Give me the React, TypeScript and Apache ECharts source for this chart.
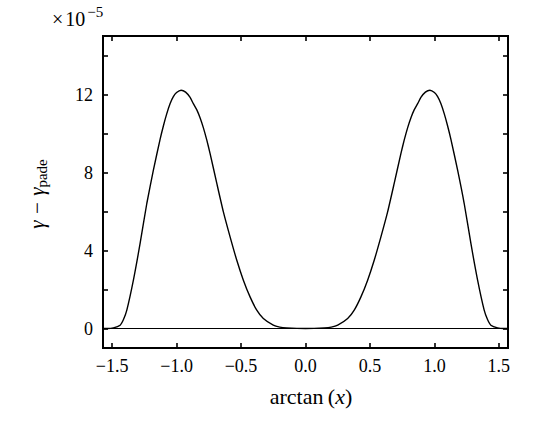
import React, { useEffect, useRef } from "react";
import * as echarts from "echarts";

const HALF_PI = Math.PI / 2;
const xTickValues = [-1.5, -1.0, -0.5, 0.0, 0.5, 1.0, 1.5];
const yTickValues = [0, 2, 4, 6, 8, 10, 12, 14];
const yLabelValues = [0, 4, 8, 12];

const xs = [
  -HALF_PI, -1.54, -1.49, -1.438, -1.412, -1.386, -1.335, -1.283, -1.231, -1.18, -1.128,
  -1.102, -1.076, -1.05, -1.025, -1.0, -0.965, -0.93, -0.895, -0.87, -0.843, -0.818,
  -0.792, -0.766, -0.74, -0.688, -0.637, -0.585, -0.533, -0.482, -0.43, -0.378, -0.327,
  -0.25, -0.2, -0.146, 0.0,
  0.146, 0.2, 0.25, 0.327, 0.378, 0.43, 0.482, 0.533, 0.585, 0.637, 0.688, 0.74, 0.766,
  0.792, 0.818, 0.843, 0.87, 0.895, 0.93, 0.965, 1.0, 1.025, 1.05, 1.076, 1.102, 1.128,
  1.18, 1.231, 1.283, 1.335, 1.386, 1.412, 1.438, 1.49, 1.54, HALF_PI,
];
const ys = [
  0, 0, 0.03, 0.17, 0.46, 0.94, 2.48, 4.36, 6.41, 8.12, 9.7,
  10.4, 11.02, 11.54, 11.89, 12.1, 12.22, 12.12, 11.85, 11.53, 11.21, 10.81,
  10.29, 9.67, 8.97, 7.44, 5.98, 4.7, 3.5, 2.48, 1.62, 0.94, 0.51,
  0.17, 0.07, 0.03, 0,
  0.03, 0.07, 0.17, 0.51, 0.94, 1.62, 2.48, 3.5, 4.7, 5.98, 7.44, 8.97, 9.67,
  10.29, 10.81, 11.21, 11.53, 11.85, 12.12, 12.22, 12.1, 11.89, 11.54, 11.02, 10.4, 9.7,
  8.12, 6.41, 4.36, 2.48, 0.94, 0.46, 0.17, 0.03, 0, 0,
];

const FONT = "'Liberation Serif', 'DejaVu Serif', serif";

function fmt(v: number): string {
  const s = v.toFixed(1);
  return s.replace("-", "\u2212");
}

export default function App() {
  const ref = useRef<HTMLDivElement>(null);
  useEffect(() => {
    if (!ref.current) return;
    const chart = echarts.init(ref.current, undefined, { renderer: "svg" });
    const tickStyle = { color: "#000", width: 1.6 };
    const hiddenLine = { show: false, onZero: false };
    chart.setOption({
      animation: false,
      backgroundColor: "#fff",
      grid: {
        left: 103,
        right: 27,
        top: 36,
        bottom: 75,
        show: true,
        borderColor: "#000",
        borderWidth: 2,
        backgroundColor: "transparent",
      },
      xAxis: [
        {
          type: "value",
          min: -HALF_PI,
          max: HALF_PI,
          position: "bottom",
          axisLine: hiddenLine,
          splitLine: { show: false },
          axisTick: { inside: true, length: 5, lineStyle: tickStyle, customValues: xTickValues },
          axisLabel: {
            customValues: xTickValues,
            formatter: (v: number) => fmt(v),
            color: "#000",
            fontFamily: FONT,
            fontSize: 18,
            margin: 9,
          },
        },
        {
          type: "value",
          min: -HALF_PI,
          max: HALF_PI,
          position: "top",
          axisLine: hiddenLine,
          splitLine: { show: false },
          axisTick: { inside: true, length: 5, lineStyle: tickStyle, customValues: xTickValues },
          axisLabel: { show: false },
        },
      ],
      yAxis: [
        {
          type: "value",
          min: -1,
          max: 15,
          position: "left",
          axisLine: hiddenLine,
          splitLine: { show: false },
          axisTick: { inside: true, length: 5, lineStyle: tickStyle, customValues: yTickValues },
          axisLabel: {
            customValues: yLabelValues,
            formatter: (v: number) => String(v),
            color: "#000",
            fontFamily: FONT,
            fontSize: 18,
            margin: 10,
          },
        },
        {
          type: "value",
          min: -1,
          max: 15,
          position: "right",
          axisLine: hiddenLine,
          splitLine: { show: false },
          axisTick: { inside: true, length: 5, lineStyle: tickStyle, customValues: yTickValues },
          axisLabel: { show: false },
        },
      ],
      series: [
        {
          type: "line",
          data: [[-HALF_PI, 0], [HALF_PI, 0]],
          symbol: "none",
          lineStyle: { color: "#000", width: 1 },
          silent: true,
          z: 1,
        },
        {
          type: "line",
          data: xs.map((x, i) => [x, ys[i]]),
          symbol: "none",
          smooth: 0.2,
          lineStyle: { color: "#000", width: 1.4 },
          z: 2,
        },
      ],
      graphic: [
        {
          type: "text",
          x: 52,
          y: 19,
          style: {
            text: "{a|\u00d7}{a|10}{b|\u22125}",
            align: "left",
            verticalAlign: "middle",
            rich: {
              a: { fontFamily: FONT, fontSize: 20, fill: "#000", padding: [0, 2, 0, 0] },
              b: { fontFamily: FONT, fontSize: 15, fill: "#000", padding: [0, 0, 14, 0] },
            },
          },
        },
        {
          type: "text",
          x: 37,
          y: 194,
          rotation: Math.PI / 2,
          style: {
            text: "{a|\u03b3 \u2212 \u03b3}{b|pade}",
            align: "center",
            verticalAlign: "middle",
            rich: {
              a: { fontFamily: FONT, fontSize: 21, fontStyle: "italic", fill: "#000" },
              b: { fontFamily: FONT, fontSize: 15, fill: "#000", padding: [9, 0, 0, 0] },
            },
          },
        },
        {
          type: "text",
          x: 311,
          y: 396,
          style: {
            text: "{a|arctan\u2009(}{b|x}{a|)}",
            align: "center",
            verticalAlign: "middle",
            rich: {
              a: { fontFamily: FONT, fontSize: 22, fill: "#000" },
              b: { fontFamily: FONT, fontSize: 22, fontStyle: "italic", fill: "#000" },
            },
          },
        },
      ],
    });
    return () => chart.dispose();
  }, []);
  return <div ref={ref} style={{ width: 535, height: 423, position: "absolute", left: 0, top: 0 }} />;
}
